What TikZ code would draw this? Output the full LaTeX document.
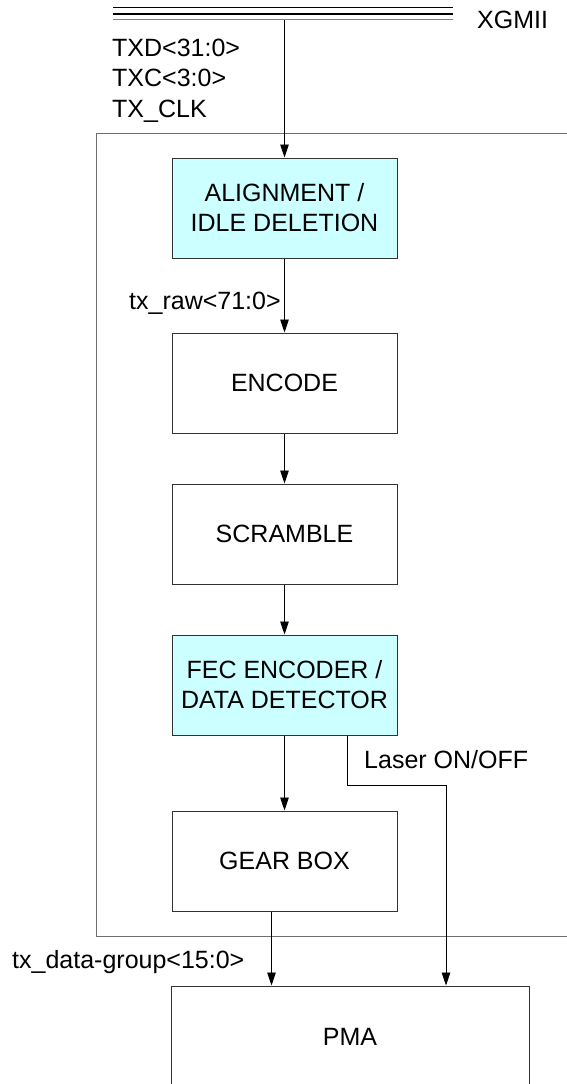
\documentclass[tikz,border=0pt]{standalone}
\usepackage{fontspec}
\setmainfont{Liberation Sans}
\usetikzlibrary{arrows.meta}
\definecolor{boxcyan}{RGB}{204,255,255}
\definecolor{edgec}{RGB}{50,50,50}
\definecolor{framec}{RGB}{110,110,110}
\tikzset{
  blk/.style={draw=edgec, line width=1pt, fill=white, minimum width=225pt, minimum height=100pt,
    inner sep=0pt, align=center, font=\fontsize{25}{30}\selectfont},
  cyanblk/.style={blk, fill=boxcyan},
  arr/.style={draw=black, line width=0.9pt, -{Triangle[length=13pt,width=8.5pt]}},
  lbl/.style={inner sep=0pt, anchor=base west, font=\fontsize{25}{30}\selectfont},
}
\begin{document}
\begin{tikzpicture}[x=1pt,y=-1pt]
\clip (0,0) rectangle (567,1084);
\useasboundingbox (0,0) rectangle (567,1084);
% bus
\coordinate (busL) at (113,7);
\coordinate (busR) at (453,7);
\draw[black, line width=1pt] (busL) -- (busR);
\draw[black, line width=2.6pt] ([yshift=-7pt]busL) -- ([yshift=-7pt]busR);
\draw[gray, line width=1.6pt] ([yshift=-12.5pt]busL) -- ([yshift=-12.5pt]busR);
\node[lbl] (xgmii) at (477,28) {XGMII};
% outer frame
\draw[framec, line width=1pt] (575,133) -| (96,936) -- (575,936);
% labels
\node[lbl] (txd) at (112,56.7) {TXD<31:0>};
\node[lbl] (txc) at (112,86.7) {TXC<3:0>};
\node[lbl] (txclk) at (112,117) {TX\_CLK};
% blocks
\node[cyanblk] (align) at (284.5,208) {ALIGNMENT /\\IDLE DELETION};
\node[blk] (enc) at (284.5,383) {ENCODE};
\node[blk] (scr) at (284.5,534) {SCRAMBLE};
\node[cyanblk] (fec) at (284.5,685) {FEC ENCODER /\\DATA DETECTOR};
\node[blk] (gear) at (284.5,861) {GEAR BOX};
\node[blk, minimum width=358pt, minimum height=102pt] (pma) at (350,1037) {PMA};
% connectors
\coordinate (busin) at (284.5,20);
\draw[arr] (busin) -- (align.north);
\draw[arr] (align) -- (enc);
\node[lbl] (txraw) at (129,309) {tx\_raw<71:0>};
\draw[arr] (enc) -- (scr);
\draw[arr] (scr) -- (fec);
\draw[arr] (fec) -- (gear);
\coordinate (lbend) at (446,785);
\draw[arr] ([xshift=-50pt]fec.south east) |- (lbend) -- (lbend |- pma.north);
\node[lbl] (laser) at (364,768) {Laser ON/OFF};
\draw[arr] ([xshift=-13pt]gear.south) -- ([xshift=-13pt]gear.south |- pma.north);
\node[lbl] (txdg) at (12,968) {tx\_data-group<15:0>};
\end{tikzpicture}
\end{document}
